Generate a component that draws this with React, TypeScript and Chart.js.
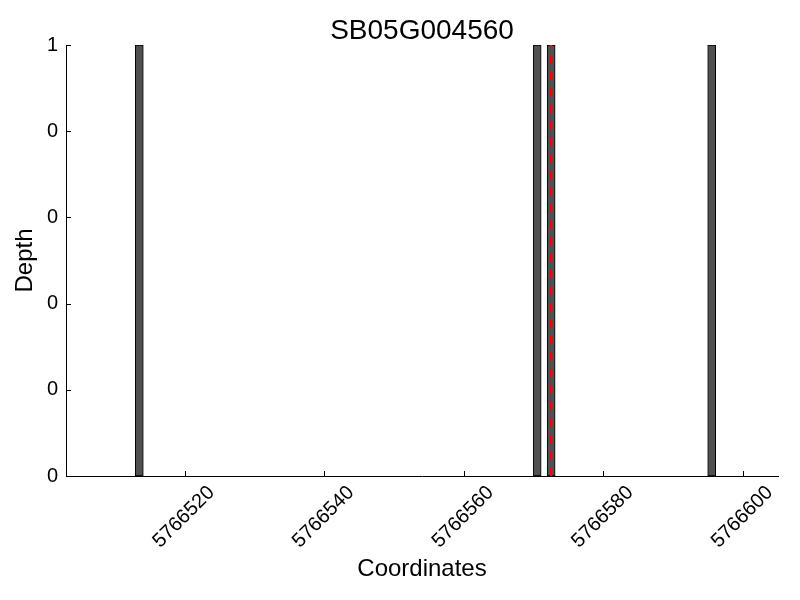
import React, { useEffect, useRef } from "react";
import { Chart, registerables } from "chart.js";

Chart.register(...registerables);

const chartTitle = "SB05G004560";
const xAxisLabel = "Coordinates";
const yAxisLabel = "Depth";

// Coverage bins (start coordinate of each 1-bp bin) and their depth
const positions = [5766513, 5766570, 5766572, 5766595];
const depths = [1, 1, 1, 1];

// Marker (red dashed line) coordinate
const markerPosition = 5766572.5;

const xMin = 5766503;
const xMax = 5766605;
const xTicks = [5766520, 5766540, 5766560, 5766580, 5766600];
const xTickLabels = ["5766520", "5766540", "5766560", "5766580", "5766600"];
const yTicks = [0, 0.2, 0.4, 0.6, 0.8, 1];
const yTickLabels = ["0", "0", "0", "0", "0", "1"];

const FONT = "'Liberation Sans', Arial, sans-serif";
const TICK_SIZE = 20;

const decorPlugin = {
  id: "decor",
  afterDatasetsDraw(chart: any) {
    const { ctx, chartArea, scales } = chart;
    const xs = scales.x;
    // red dashed marker line
    const mx = xs.getPixelForValue(markerPosition);
    ctx.save();
    ctx.strokeStyle = "#ff0000";
    ctx.lineWidth = 2.5;
    ctx.setLineDash([8, 8.5]);
    ctx.beginPath();
    ctx.moveTo(mx, chartArea.bottom);
    ctx.lineTo(mx, chartArea.top);
    ctx.stroke();
    ctx.restore();
  },
  afterDraw(chart: any) {
    const { ctx, chartArea, scales } = chart;
    const xs = scales.x;
    const ys = scales.y;
    ctx.save();
    // inward tick marks
    ctx.strokeStyle = "#000";
    ctx.lineWidth = 1;
    ctx.beginPath();
    xs.ticks.forEach((t: any) => {
      const x = Math.round(xs.getPixelForValue(t.value)) + 0.5;
      ctx.moveTo(x, chartArea.bottom);
      ctx.lineTo(x, chartArea.bottom - 5);
    });
    ys.ticks.forEach((t: any) => {
      const y = Math.round(ys.getPixelForValue(t.value)) + 0.5;
      ctx.moveTo(chartArea.left, y);
      ctx.lineTo(chartArea.left + 5, y);
    });
    ctx.stroke();

    // rotated x tick labels (centered under tick)
    ctx.fillStyle = "#000";
    ctx.font = `${TICK_SIZE}px ${FONT}`;
    ctx.textAlign = "center";
    ctx.textBaseline = "alphabetic";
    const capH = TICK_SIZE * 0.716;
    xs.ticks.forEach((t: any, i: number) => {
      const label = xTickLabels[i] ?? String(t.value);
      const L = ctx.measureText(label).width;
      const halfH = ((L + capH) * Math.SQRT1_2) / 2;
      const x = xs.getPixelForValue(t.value) - 2;
      const y = chartArea.bottom + 7.3 + halfH;
      ctx.save();
      ctx.translate(x, y);
      ctx.rotate(-Math.PI / 4);
      ctx.fillText(label, 0, capH / 2);
      ctx.restore();
    });

    // title
    const cx = (chartArea.left + chartArea.right) / 2;
    ctx.font = `28px ${FONT}`;
    ctx.fillText(chartTitle, cx, 39.3);
    // x axis label
    ctx.font = `24px ${FONT}`;
    ctx.fillText(xAxisLabel, cx, 575.7);
    // y axis label
    ctx.save();
    ctx.translate(32.3, (chartArea.top + chartArea.bottom) / 2);
    ctx.rotate(-Math.PI / 2);
    ctx.fillText(yAxisLabel, 0, 0);
    ctx.restore();
    ctx.restore();
  },
};

export default function App() {
  const canvasRef = useRef<HTMLCanvasElement | null>(null);

  useEffect(() => {
    const canvas = canvasRef.current;
    if (!canvas) return;
    const chart = new Chart(canvas, {
      type: "bar",
      data: {
        datasets: [
          {
            data: positions.map((p, i) => ({ x: p + 0.5, y: depths[i] })),
            backgroundColor: "#505050",
            borderColor: "#000000",
            borderWidth: 1,
            barThickness: 8,
            borderSkipped: false,
          },
        ],
      },
      options: {
        responsive: false,
        animation: false,
        devicePixelRatio: 1,
        layout: { padding: { top: 45, right: 22, left: 0, bottom: 0 } },
        plugins: {
          legend: { display: false },
          tooltip: { enabled: false },
          title: { display: false },
        },
        scales: {
          x: {
            type: "linear",
            offset: false,
            min: xMin,
            max: xMax,
            grid: { display: false, drawTicks: false },
            border: { display: true, color: "#000", width: 1 },
            ticks: { display: false, includeBounds: false },
            afterBuildTicks: (s: any) => {
              s.ticks = xTicks.map((v) => ({ value: v }));
            },
            afterFit: (s: any) => {
              s.height = 124;
            },
          },
          y: {
            type: "linear",
            min: 0,
            max: 1,
            grid: { display: false, drawTicks: false },
            border: { display: true, color: "#000", width: 1 },
            ticks: {
              color: "#000",
              padding: 8,
              font: { family: FONT, size: TICK_SIZE },
              callback: (_v: any, i: number) => yTickLabels[i],
            },
            afterBuildTicks: (s: any) => {
              s.ticks = yTicks.map((v) => ({ value: v }));
            },
            afterFit: (s: any) => {
              s.width = 66;
            },
          },
        },
      },
      plugins: [decorPlugin],
    });
    return () => chart.destroy();
  }, []);

  return (
    <div style={{ position: "absolute", left: 0, top: 0, width: 800, height: 600, background: "#fff" }}>
      <canvas ref={canvasRef} width={800} height={600} style={{ display: "block" }} />
    </div>
  );
}
